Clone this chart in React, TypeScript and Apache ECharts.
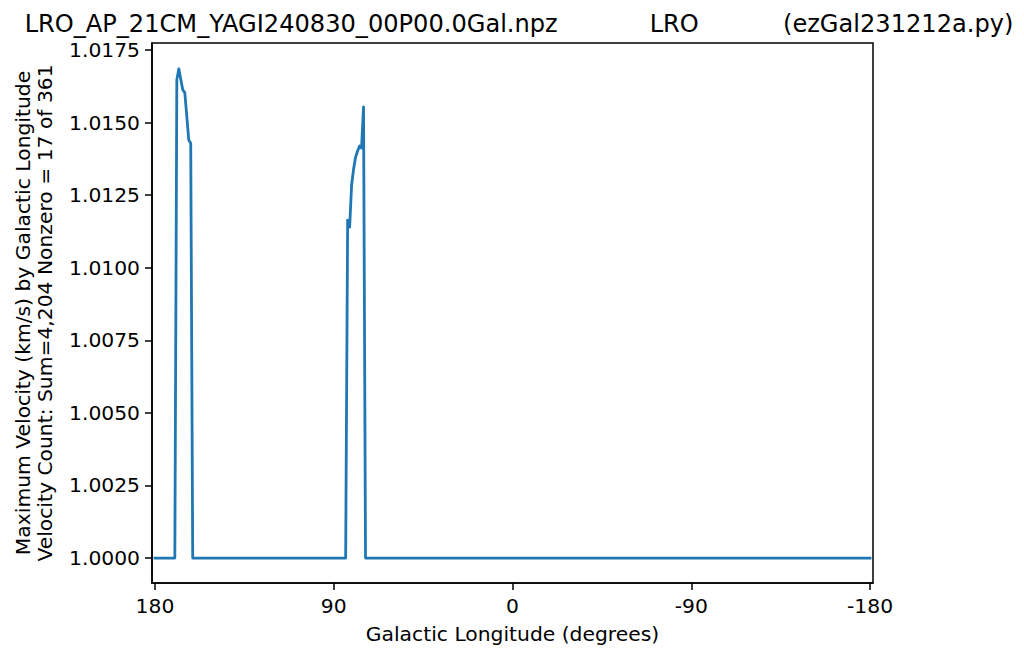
import React, { useEffect, useRef } from "react";
import * as echarts from "echarts";

const titleText = "LRO_AP_21CM_YAGI240830_00P00.0Gal.npz            LRO           (ezGal231212a.py)";
const xAxisTitle = "Galactic Longitude (degrees)";
const yAxisTitle = "Maximum Velocity (km/s) by Galactic Longitude\nVelocity Count: Sum=4,204 Nonzero = 17 of 361";

const baselineVel = 1.0;
const flatSegments = [
  [180, 170],
  [161, 84],
  [74, -180],
];
const peak1Lon = [169, 168, 167, 166, 165, 164, 163, 162];
const peak1Vel = [1.01647, 1.01685, 1.01648, 1.01612, 1.01604, 1.01523, 1.0144, 1.01429];
const peak2Lon = [83, 82, 81, 80, 79, 78, 77, 76, 75];
const peak2Vel = [1.01164, 1.0114, 1.01285, 1.0134, 1.01381, 1.01402, 1.01419, 1.01412, 1.01554];

const xTicks = [180, 90, 0, -90, -180];
const yTicks = [1.0, 1.0025, 1.005, 1.0075, 1.01, 1.0125, 1.015, 1.0175];

const FONT = "DejaVu Sans";
const FS = 20.3;

export default function App() {
  const ref = useRef<HTMLDivElement>(null);
  useEffect(() => {
    if (!ref.current) return;
    const chart = echarts.init(ref.current, null, { renderer: "svg" });
    const data: number[][] = [];
    data.push([flatSegments[0][0], baselineVel], [flatSegments[0][1], baselineVel]);
    peak1Lon.forEach((l, i) => data.push([l, peak1Vel[i]]));
    data.push([flatSegments[1][0], baselineVel], [flatSegments[1][1], baselineVel]);
    peak2Lon.forEach((l, i) => data.push([l, peak2Vel[i]]));
    data.push([flatSegments[2][0], baselineVel], [flatSegments[2][1], baselineVel]);

    chart.setOption({
      animation: false,
      backgroundColor: "#ffffff",
      textStyle: { fontFamily: FONT },
      title: {
        text: titleText,
        left: 519,
        top: 11,
        padding: 0,
        textAlign: "center",
        textStyle: { fontFamily: FONT, fontSize: 24.1, lineHeight: 26, fontWeight: "normal", color: "#000" },
      },
      grid: {
        left: 152,
        top: 43,
        width: 721,
        height: 540,
        show: true,
        borderColor: "#000",
        borderWidth: 1.5,
        backgroundColor: "#fff",
      },
      xAxis: {
        type: "value",
        inverse: true,
        min: -181.5,
        max: 181.5,
        name: xAxisTitle,
        nameLocation: "middle",
        nameGap: 41,
        nameTextStyle: { fontFamily: FONT, fontSize: FS, color: "#000" },
        axisLine: { show: true, onZero: false, lineStyle: { color: "#000", width: 1.5 } },
        axisTick: { show: true, inside: false, length: 7, lineStyle: { color: "#000", width: 1.5 }, customValues: xTicks },
        axisLabel: {
          show: true,
          margin: 13,
          fontFamily: FONT,
          fontSize: FS,
          color: "#000",
          customValues: xTicks,
          formatter: (v: number) => String(Math.round(v)),
        },
        splitLine: { show: false },
      },
      yAxis: {
        type: "value",
        min: 0.99914,
        max: 1.01774,
        axisLine: { show: true, onZero: false, lineStyle: { color: "#000", width: 1.5 } },
        axisTick: { show: true, inside: false, length: 7, lineStyle: { color: "#000", width: 1.5 }, customValues: yTicks },
        axisLabel: {
          show: true,
          margin: 12,
          fontFamily: FONT,
          fontSize: FS,
          color: "#000",
          customValues: yTicks,
          formatter: (v: number) => v.toFixed(4),
        },
        splitLine: { show: false },
      },
      graphic: [
        {
          type: "text",
          x: 33.5,
          y: 313,
          rotation: Math.PI / 2,
          style: {
            text: yAxisTitle,
            font: `${FS}px "${FONT}"`,
            fill: "#000",
            textAlign: "center",
            textVerticalAlign: "middle",
            lineHeight: 22,
          },
        },
      ],
      series: [
        {
          type: "line",
          data,
          showSymbol: false,
          symbol: "none",
          lineStyle: { color: "#1f77b4", width: 2.8, join: "round", cap: "square" },
          itemStyle: { color: "#1f77b4" },
          clip: true,
        },
      ],
    });
    return () => chart.dispose();
  }, []);
  return <div ref={ref} style={{ position: "absolute", left: 0, top: 0, width: 1024, height: 661 }} />;
}
